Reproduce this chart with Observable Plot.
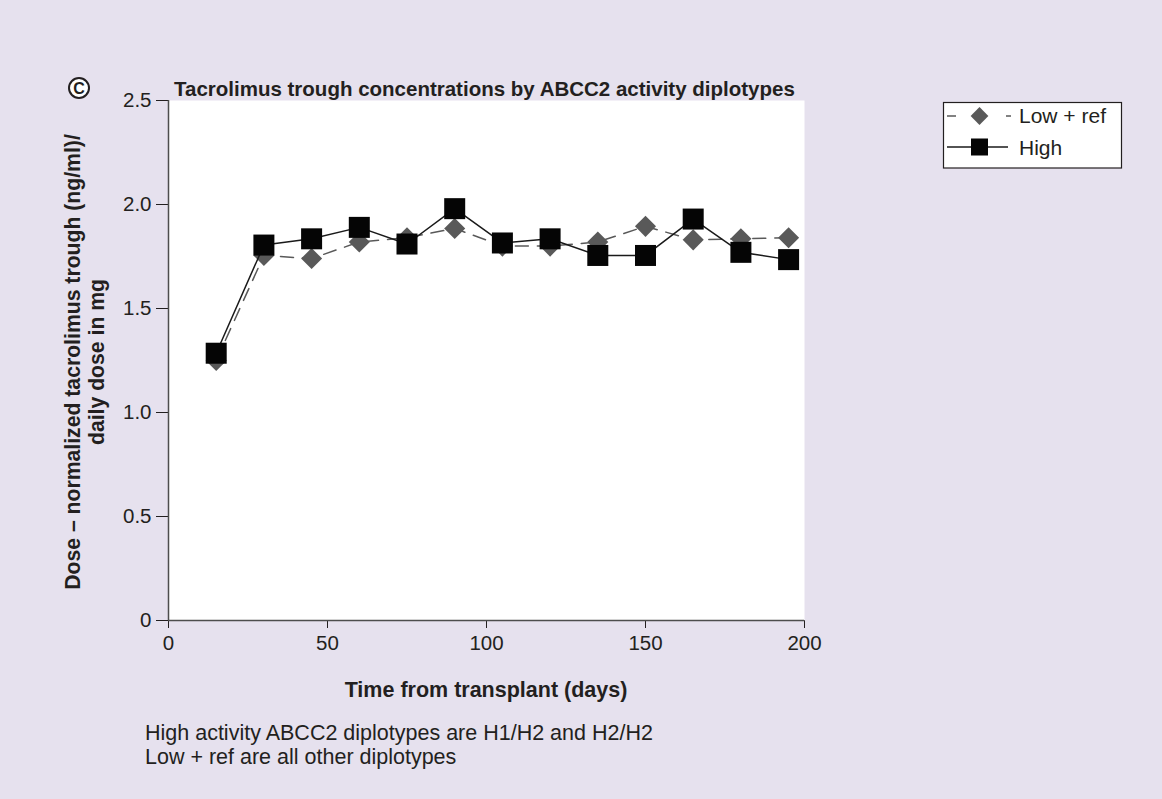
<!DOCTYPE html>
<html><head><meta charset="utf-8">
<script src="https://cdn.jsdelivr.net/npm/d3@7"></script>
<script src="https://cdn.jsdelivr.net/npm/@observablehq/plot@0.6"></script>
<style>
html,body{margin:0;padding:0;background:#e6e1ee;}
#wrap{position:relative;width:1162px;height:799px;background:#e6e1ee;overflow:hidden;}
#wrap svg{position:absolute;left:0;top:0;}
</style></head><body><div id="wrap"></div>
<script>
// ---- data ----
const days   = [15, 30, 45, 60, 75, 90, 105, 120, 135, 150, 165, 180, 195];
const lowRef = [1.25, 1.755, 1.74, 1.82, 1.84, 1.885, 1.80, 1.80, 1.82, 1.895, 1.83, 1.835, 1.84];
const high   = [1.285, 1.805, 1.835, 1.89, 1.81, 1.98, 1.815, 1.835, 1.755, 1.755, 1.93, 1.77, 1.735];
const xTicks = [0, 50, 100, 150, 200];
const yTicks = [0, 0.5, 1.0, 1.5, 2.0, 2.5];
const seriesNames = ["Low + ref", "High"];
const title = "Tacrolimus trough concentrations by ABCC2 activity diplotypes";
const panelLetter = "C";
const xLabel = "Time from transplant (days)";
const yLabelLines = ["Dose \u2013 normalized tacrolimus trough (ng/ml)/", "daily dose in mg"];
const notes = ["High activity ABCC2 diplotypes are H1/H2 and H2/H2", "Low + ref are all other diplotypes"];

const FONT = "'Liberation Sans', Arial, Helvetica, sans-serif";
const INK = "#231f20";
const GRAY = "#595959";

const toRows = vals => days.map((d, i) => ({day: d, value: vals[i]}));
const lowRows = toRows(lowRef), highRows = toRows(high);

const chart = Plot.plot({
  width: 1162, height: 799,
  marginLeft: 168, marginRight: 358, marginTop: 100, marginBottom: 179,
  style: {background: "transparent", fontFamily: FONT, fontSize: "20.5px", color: INK, overflow: "visible"},
  x: {domain: [0, 200], ticks: xTicks, tickSize: 8, tickPadding: 7, label: null},
  y: {domain: [0, 2.5], ticks: yTicks, tickSize: 12, tickPadding: 5, label: null,
      tickFormat: d => d === 0 ? "0" : d3.format(".1f")(d)},
  marks: [
    Plot.frame({fill: "white", stroke: "none"}),
    Plot.ruleY([0], {stroke: "#4d4d4d", strokeWidth: 1.5}),
    Plot.ruleX([0], {stroke: "#4d4d4d", strokeWidth: 1.5}),
    Plot.line(lowRows, {x: "day", y: "value", stroke: GRAY, strokeWidth: 1.5, strokeDasharray: "13,9"}),
    Plot.dot(lowRows, {x: "day", y: "value", symbol: "diamond2", r: 9.5, fill: GRAY, stroke: "none"}),
    Plot.line(highRows, {x: "day", y: "value", stroke: "#1a1a1a", strokeWidth: 1.5}),
    Plot.dot(highRows, {x: "day", y: "value", symbol: "square", r: 11.85, fill: "#050505", stroke: "none"})
  ]
});
const wrap = document.getElementById("wrap");
wrap.appendChild(chart);

// ---- overlay: titles, labels, legend, notes ----
const svg = d3.select(wrap).append("svg").attr("width", 1162).attr("height", 799)
  .attr("font-family", FONT).attr("fill", INK).style("pointer-events", "none");

// panel letter
svg.append("circle").attr("cx", 79).attr("cy", 88).attr("r", 10)
  .attr("fill", "white").attr("stroke", INK).attr("stroke-width", 2);
svg.append("text").attr("x", 79).attr("y", 94).attr("text-anchor", "middle")
  .attr("font-size", 16).attr("font-weight", "bold").text(panelLetter);

svg.append("text").attr("x", 174).attr("y", 96).attr("font-size", 20.5)
  .attr("font-weight", "bold").text(title);

svg.append("text").attr("x", 486).attr("y", 697).attr("text-anchor", "middle")
  .attr("font-size", 21.5).attr("font-weight", "bold").text(xLabel);

const yl = svg.append("g").attr("transform", "translate(79.5,362) rotate(-90)");
yLabelLines.forEach((t, i) => yl.append("text").attr("x", 0).attr("y", i * 24)
  .attr("text-anchor", "middle").attr("font-size", 21.2).attr("font-weight", "bold").text(t));

notes.forEach((t, i) => svg.append("text").attr("x", 145).attr("y", 740 + i * 24)
  .attr("font-size", 21.5).text(t));

// legend
const lg = svg.append("g");
lg.append("rect").attr("x", 943.5).attr("y", 102.5).attr("width", 178).attr("height", 65.5)
  .attr("fill", "white").attr("stroke", INK).attr("stroke-width", 1.2);
lg.append("line").attr("x1", 947).attr("x2", 956).attr("y1", 116).attr("y2", 116).attr("stroke", GRAY).attr("stroke-width", 1.5);
lg.append("line").attr("x1", 1006).attr("x2", 1011).attr("y1", 116).attr("y2", 116).attr("stroke", GRAY).attr("stroke-width", 1.5);
lg.append("path").attr("d", d3.symbol(d3.symbolDiamond2, Math.PI * 8 * 8)()).attr("transform", "translate(979.5,116)").attr("fill", GRAY);
lg.append("line").attr("x1", 947).attr("x2", 1008).attr("y1", 147).attr("y2", 147).attr("stroke", "#1a1a1a").attr("stroke-width", 1.5);
lg.append("rect").attr("x", 971).attr("y", 138.5).attr("width", 17).attr("height", 17).attr("fill", "#050505");
lg.append("text").attr("x", 1019).attr("y", 123).attr("font-size", 21).text(seriesNames[0]);
lg.append("text").attr("x", 1019).attr("y", 155).attr("font-size", 21).text(seriesNames[1]);
</script>
</body></html>
